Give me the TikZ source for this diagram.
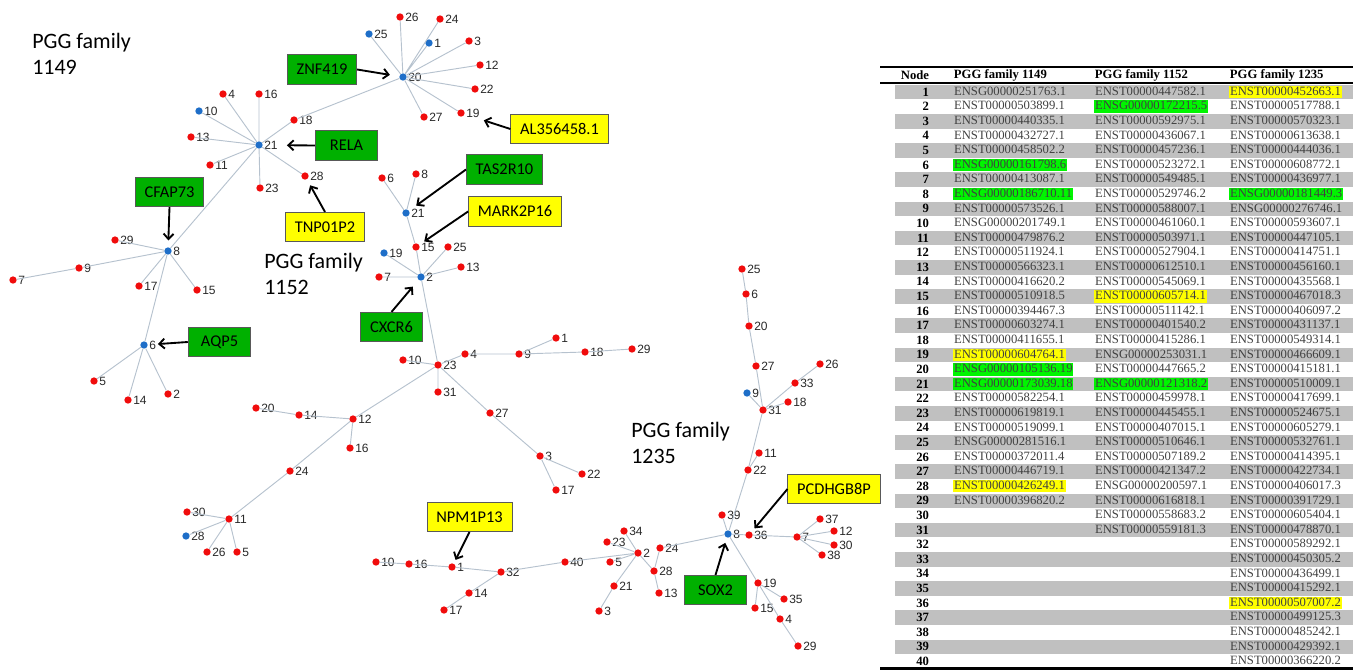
\documentclass[tikz,border=0pt]{standalone}
\usepackage{fontspec}
\setmainfont{Liberation Serif}
\newfontfamily\calfont{Carlito}
\newfontfamily\numfont{Liberation Sans}
\usetikzlibrary{arrows.meta}

\definecolor{dotred}{RGB}{240,12,12}
\definecolor{dotblue}{RGB}{30,110,200}
\definecolor{edgegray}{RGB}{182,194,206}
\definecolor{labgray}{RGB}{40,40,40}
\definecolor{boxgreen}{RGB}{0,176,0}
\definecolor{boxyellow}{RGB}{255,255,0}
\definecolor{hlgreen}{RGB}{0,245,0}
\definecolor{hlyellow}{RGB}{255,255,0}
\definecolor{rowgray}{RGB}{192,192,192}
\definecolor{idgray}{RGB}{64,64,64}

\begin{document}
\begin{tikzpicture}[x=0.75pt, y=-0.75pt]
    % ==========================
    % 設定
    % ==========================
    \def\rowh{14.6} % 表の行の高さ
    \tikzset{
        dot/.style={circle, inner sep=0pt, minimum size=5.5pt}, % 頂点
        rdot/.style={dot, fill=dotred},
        bdot/.style={dot, fill=dotblue},
        every label/.style={font=\numfont\fontsize{9}{10}\selectfont, text=labgray, inner sep=0.8pt},
        label distance=0pt,
        edge/.style={draw=edgegray, line width=0.7pt}, % 辺
        gene/.style={draw=black!65, line width=0.6pt, font=\calfont\fontsize{12.3}{14}\selectfont,
            minimum width=47pt, minimum height=22pt, inner xsep=7pt},
        gbox/.style={gene, fill=boxgreen},
        ybox/.style={gene, fill=boxyellow},
        callout/.style={-{Straight Barb[length=4pt,width=7.5pt]}, line width=1.4pt},
        family/.style={font=\calfont\fontsize{16.5}{19.5}\selectfont, align=left, anchor=north west, inner sep=0pt},
        cell/.style={anchor=west, font=\fontsize{9.5}{10}\selectfont, text=idgray, inner xsep=0.6pt, inner ysep=0.3pt,
            text height=6.8pt, text depth=2pt},
        numcell/.style={anchor=east, font=\bfseries\fontsize{9.5}{10}\selectfont, inner sep=0.5pt},
        headcell/.style={font=\bfseries\fontsize{9.5}{10}\selectfont, inner sep=0.5pt}
    }
    \useasboundingbox (0,0) rectangle (1356,671);

    % ==========================
    % 1. PGG family 1149
    % ==========================
    \begin{scope}
        \node[family] (famA) at (32,33) {PGG family\\1149};

        % 頂点
        \node[bdot, label=right:20] (A20) at (403,77) {};
        \node[rdot, label=right:26] (A26) at (400,17) {};
        \node[rdot, label=right:24] (A24) at (440,19) {};
        \node[bdot, label=right:25] (A25) at (369,34) {};
        \node[bdot, label=right:1] (A1) at (429,43) {};
        \node[rdot, label=right:3] (A3) at (469,41) {};
        \node[rdot, label=right:12] (A12) at (480,65) {};
        \node[rdot, label=right:22] (A22) at (475,89) {};
        \node[rdot, label=right:19] (A19) at (461,113) {};
        \node[rdot, label=right:27] (A27) at (424,117) {};
        \node[rdot, label=right:18] (A18) at (294,120) {};
        \node[bdot, label=right:21] (A21) at (259,145) {};
        \node[rdot, label=right:16] (A16) at (259,94) {};
        \node[rdot, label=right:4] (A4) at (223,94) {};
        \node[bdot, label=right:10] (A10) at (199,111) {};
        \node[rdot, label=right:13] (A13) at (191,137) {};
        \node[rdot, label=right:11] (A11) at (210,165) {};
        \node[rdot, label=right:23] (A23) at (260,188) {};
        \node[rdot, label=right:28] (A28) at (305,176) {};
        \node[bdot, label=right:8] (A8) at (168,251) {};
        \node[rdot, label=right:29] (A29) at (115,240) {};
        \node[rdot, label=right:9] (A9) at (79,268) {};
        \node[rdot, label=right:7] (A7) at (13,280) {};
        \node[rdot, label=right:17] (A17) at (139,286) {};
        \node[rdot, label=right:15] (A15) at (197,290) {};
        \node[bdot, label=right:6] (A6) at (144,345) {};
        \node[rdot, label=right:5] (A5) at (94,381) {};
        \node[rdot, label=right:14] (A14) at (128,400) {};
        \node[rdot, label=right:2] (A2) at (168,394) {};

        % 辺
        \draw[edge] (A20) -- (A26) (A20) -- (A24) (A20) -- (A25) (A20) -- (A1) (A20) -- (A3)
            (A20) -- (A12) (A20) -- (A22) (A20) -- (A19) (A20) -- (A27) (A20) -- (A18);
        \draw[edge] (A18) -- (A21) (A21) -- (A16) (A21) -- (A4) (A21) -- (A10) (A21) -- (A13)
            (A21) -- (A11) (A21) -- (A23) (A21) -- (A28) (A21) -- (A8);
        \draw[edge] (A8) -- (A29) (A8) -- (A9) (A9) -- (A7) (A8) -- (A17) (A8) -- (A15) (A8) -- (A6);
        \draw[edge] (A6) -- (A5) (A6) -- (A14) (A6) -- (A2);

        % 遺伝子名
        \node[gbox] (znf) at (322,69.5) {ZNF419};
        \node[gbox] (rela) at (346.5,145.5) {RELA};
        \node[gbox] (cfap) at (169.5,192) {CFAP73};
        \node[gbox] (aqp) at (219.5,342) {AQP5};
        \node[ybox] (tnp) at (325,227) {TNP01P2};
        \node[ybox] (alx) at (559.5,129) {AL356458.1};

        \draw[callout, shorten >=7pt] (znf.east) -- (A20);
        \draw[callout, shorten >=18pt] (rela.west) -- (A21);
        \draw[callout, shorten >=5pt] (cfap.south) -- (A8);
        \draw[callout, shorten >=7.5pt] (aqp.west) -- (A6);
        \draw[callout, shorten >=5pt] (tnp.north) -- (A28);
        \draw[callout, shorten >=15pt] (alx.west) -- (A19);
    \end{scope}

    % ==========================
    % 2. PGG family 1152
    % ==========================
    \begin{scope}
        \node[family] (famB) at (264,253) {PGG family\\1152};

        % 頂点
        \node[rdot, label=right:6] (B6) at (382,178) {};
        \node[rdot, label=right:8] (B8) at (416,174) {};
        \node[bdot, label=right:21] (B21) at (406,213) {};
        \node[rdot, label=right:15] (B15) at (416,247) {};
        \node[rdot, label=right:25] (B25) at (448,247) {};
        \node[bdot, label=right:19] (B19) at (384,253) {};
        \node[rdot, label=right:7] (B7) at (379,277) {};
        \node[bdot, label=right:2] (B2) at (421,277) {};
        \node[rdot, label=right:13] (B13) at (461,267) {};
        \node[rdot, label=right:23] (B23) at (438,365) {};
        \node[rdot, label=right:10] (B10) at (403,360) {};
        \node[rdot, label=right:4] (B4) at (465,354) {};
        \node[rdot, label=right:9] (B9) at (519,354) {};
        \node[rdot, label=right:1] (B1) at (556,338) {};
        \node[rdot, label=right:18] (B18) at (585,352) {};
        \node[rdot, label=right:29] (B29) at (632,349) {};
        \node[rdot, label=right:31] (B31) at (438,392) {};
        \node[rdot, label=right:27] (B27) at (490,413) {};
        \node[rdot, label=right:3] (B3) at (540,456) {};
        \node[rdot, label=right:22] (B22) at (582,474) {};
        \node[rdot, label=right:17] (B17) at (556,490) {};
        \node[rdot, label=right:12] (B12) at (353,419) {};
        \node[rdot, label=right:14] (B14) at (299,415) {};
        \node[rdot, label=right:20] (B20) at (256,408) {};
        \node[rdot, label=right:16] (B16) at (350,448) {};
        \node[rdot, label=right:24] (B24) at (290,471) {};
        \node[rdot, label=right:11] (B11) at (229,519) {};
        \node[rdot, label=right:30] (B30) at (187,512) {};
        \node[bdot, label=right:28] (B28) at (186,536) {};
        \node[rdot, label=right:26] (B26) at (207,552) {};
        \node[rdot, label=right:5] (B5) at (237,552) {};

        % 辺
        \draw[edge] (B21) -- (B6) (B21) -- (B8) (B21) -- (B15) (B15) -- (B2)
            (B2) -- (B25) (B2) -- (B19) (B2) -- (B7) (B2) -- (B13) (B2) -- (B23);
        \draw[edge] (B23) -- (B10) (B23) -- (B4) (B4) -- (B9) (B9) -- (B1) (B9) -- (B18) (B18) -- (B29)
            (B23) -- (B31) (B23) -- (B27) (B27) -- (B3) (B3) -- (B22) (B3) -- (B17);
        \draw[edge] (B23) -- (B12) (B12) -- (B14) (B14) -- (B20) (B12) -- (B16) (B12) -- (B24)
            (B24) -- (B11) (B11) -- (B30) (B11) -- (B28) (B11) -- (B26) (B11) -- (B5);

        % 遺伝子名
        \node[gbox] (tas) at (504.5,169.5) {TAS2R10};
        \node[ybox] (mark) at (515,211.5) {MARK2P16};
        \node[gbox] (cxcr) at (391.5,327) {CXCR6};

        \draw[callout, shorten >=6.5pt] (tas.west) -- (B21);
        \draw[callout, shorten >=4.5pt] (mark.west) -- (B15);
        \draw[callout, shorten >=6.5pt] (cxcr.north) -- (B2);
    \end{scope}

    % ==========================
    % 3. PGG family 1235
    % ==========================
    \begin{scope}
        \node[family] (famC) at (631,422) {PGG family\\1235};

        % 頂点
        \node[rdot, label=right:25] (C25) at (742,269) {};
        \node[rdot, label=right:6] (C6) at (746,294) {};
        \node[rdot, label=right:20] (C20) at (749,326) {};
        \node[rdot, label=right:27] (C27) at (756,366) {};
        \node[bdot, label=right:9] (C9) at (747,393) {};
        \node[rdot, label=right:31] (C31) at (763,410) {};
        \node[rdot, label=right:33] (C33) at (795,383) {};
        \node[rdot, label=right:26] (C26) at (820,364) {};
        \node[rdot, label=right:18] (C18) at (788,402) {};
        \node[rdot, label=right:11] (C11) at (759,453) {};
        \node[rdot, label=right:22] (C22) at (748,470) {};
        \node[rdot, label=right:39] (C39) at (722,515) {};
        \node[bdot, label=right:8] (C8) at (728,534) {};
        \node[rdot, label=right:36] (C36) at (749,535) {};
        \node[rdot, label=right:7] (C7) at (797,537) {};
        \node[rdot, label=right:37] (C37) at (820,519) {};
        \node[rdot, label=right:12] (C12) at (834,531) {};
        \node[rdot, label=right:30] (C30) at (834,545) {};
        \node[rdot, label=right:38] (C38) at (822,555) {};
        \node[rdot, label=right:19] (C19) at (758,583) {};
        \node[rdot, label=right:35] (C35) at (784,599) {};
        \node[rdot, label=right:15] (C15) at (755,608) {};
        \node[rdot, label=right:4] (C4) at (780,619) {};
        \node[rdot, label=right:29] (C29) at (798,646) {};
        \node[rdot, label=right:24] (C24) at (660,548) {};
        \node[rdot, label=right:2] (C2) at (638,553) {};
        \node[rdot, label=right:34] (C34) at (624,531) {};
        \node[rdot, label=right:23] (C23) at (607,542) {};
        \node[rdot, label=right:5] (C5) at (610,562) {};
        \node[rdot, label=right:28] (C28) at (654,571) {};
        \node[rdot, label=right:13] (C13) at (659,593) {};
        \node[rdot, label=right:21] (C21) at (614,586) {};
        \node[rdot, label=right:3] (C3) at (599,611) {};
        \node[rdot, label=right:40] (C40) at (565,562) {};
        \node[rdot, label=right:32] (C32) at (501,572) {};
        \node[rdot, label=right:1] (C1) at (452,567) {};
        \node[rdot, label=right:16] (C16) at (409,564) {};
        \node[rdot, label=right:10] (C10) at (376,562) {};
        \node[rdot, label=right:14] (C14) at (469,593) {};
        \node[rdot, label=right:17] (C17) at (444,610) {};

        % 辺
        \draw[edge] (C25) -- (C6) (C6) -- (C20) (C20) -- (C27) (C27) -- (C31) (C31) -- (C9)
            (C31) -- (C33) (C33) -- (C26) (C31) -- (C18) (C31) -- (C22) (C22) -- (C11) (C22) -- (C8);
        \draw[edge] (C8) -- (C39) (C8) -- (C36) (C36) -- (C7) (C7) -- (C37) (C7) -- (C12)
            (C7) -- (C30) (C7) -- (C38) (C8) -- (C19) (C19) -- (C35) (C19) -- (C15) (C19) -- (C4) (C4) -- (C29);
        \draw[edge] (C8) -- (C24) (C24) -- (C28) (C28) -- (C13) (C28) -- (C2) (C2) -- (C34) (C2) -- (C23)
            (C2) -- (C5) (C2) -- (C40) (C2) -- (C21) (C21) -- (C3);
        \draw[edge] (C40) -- (C32) (C32) -- (C1) (C1) -- (C16) (C16) -- (C10) (C32) -- (C14) (C14) -- (C17);

        % 遺伝子名
        \node[ybox] (npm) at (469.5,517) {NPM1P13};
        \node[ybox] (pcd) at (834,489) {PCDHGB8P};
        \node[gbox] (sox) at (715.5,590) {SOX2};

        \draw[callout, shorten >=3pt] (npm.south) -- (C1);
        \draw[callout, shorten >=3.5pt] (pcd.west) -- (C36);
        \draw[callout, shorten >=4pt] (sox.north) -- (C8);
    \end{scope}

    % ==========================
    % 4. 表
    % ==========================
    \begin{scope}
        % 行の背景 (奇数行)
        \foreach \i in {1,3,...,39}
            \fill[rowgray] (895,{92+(\i-1)*\rowh-\rowh/2}) rectangle (1353,{92+(\i-1)*\rowh+\rowh/2});

        % 罫線
        \draw[line width=1.5pt] (880,66.5) -- (1353,66.5);
        \draw[line width=1pt] (880,83) -- (1353,83);
        \draw[line width=2pt] (880,668.5) -- (1353,668.5);

        % 見出し
        \node[headcell, anchor=east] (hNode) at (930,75) {Node};
        \node[headcell, anchor=west] (hA) at (953,75) {PGG family 1149};
        \node[headcell, anchor=west] (hB) at (1094,75) {PGG family 1152};
        \node[headcell, anchor=west] (hC) at (1229,75) {PGG family 1235};

        % 行
        \foreach \n/\ca/\a/\cb/\b/\cc/\c in {
            1/none/ENSG00000251763.1/none/ENST00000447582.1/hlyellow/ENST00000452663.1,
            2/none/ENST00000503899.1/hlgreen/ENSG00000172215.5/none/ENST00000517788.1,
            3/none/ENST00000440335.1/none/ENST00000592975.1/none/ENST00000570323.1,
            4/none/ENST00000432727.1/none/ENST00000436067.1/none/ENST00000613638.1,
            5/none/ENST00000458502.2/none/ENST00000457236.1/none/ENST00000444036.1,
            6/hlgreen/ENSG00000161798.6/none/ENST00000523272.1/none/ENST00000608772.1,
            7/none/ENST00000413087.1/none/ENST00000549485.1/none/ENST00000436977.1,
            8/hlgreen/ENSG00000186710.11/none/ENST00000529746.2/hlgreen/ENSG00000181449.3,
            9/none/ENST00000573526.1/none/ENST00000588007.1/none/ENSG00000276746.1,
            10/none/ENSG00000201749.1/none/ENST00000461060.1/none/ENST00000593607.1,
            11/none/ENST00000479876.2/none/ENST00000503971.1/none/ENST00000447105.1,
            12/none/ENST00000511924.1/none/ENST00000527904.1/none/ENST00000414751.1,
            13/none/ENST00000566323.1/none/ENST00000612510.1/none/ENST00000456160.1,
            14/none/ENST00000416620.2/none/ENST00000545069.1/none/ENST00000435568.1,
            15/none/ENST00000510918.5/hlyellow/ENST00000605714.1/none/ENST00000467018.3,
            16/none/ENST00000394467.3/none/ENST00000511142.1/none/ENST00000406097.2,
            17/none/ENST00000603274.1/none/ENST00000401540.2/none/ENST00000431137.1,
            18/none/ENST00000411655.1/none/ENST00000415286.1/none/ENST00000549314.1,
            19/hlyellow/ENST00000604764.1/none/ENSG00000253031.1/none/ENST00000466609.1,
            20/hlgreen/ENSG00000105136.19/none/ENST00000447665.2/none/ENST00000415181.1,
            21/hlgreen/ENSG00000173039.18/hlgreen/ENSG00000121318.2/none/ENST00000510009.1,
            22/none/ENST00000582254.1/none/ENST00000459978.1/none/ENST00000417699.1,
            23/none/ENST00000619819.1/none/ENST00000445455.1/none/ENST00000524675.1,
            24/none/ENST00000519099.1/none/ENST00000407015.1/none/ENST00000605279.1,
            25/none/ENSG00000281516.1/none/ENST00000510646.1/none/ENST00000532761.1,
            26/none/ENST00000372011.4/none/ENST00000507189.2/none/ENST00000414395.1,
            27/none/ENST00000446719.1/none/ENST00000421347.2/none/ENST00000422734.1,
            28/hlyellow/ENST00000426249.1/none/ENSG00000200597.1/none/ENST00000406017.3,
            29/none/ENST00000396820.2/none/ENST00000616818.1/none/ENST00000391729.1,
            30/none/{}/none/ENST00000558683.2/none/ENST00000605404.1,
            31/none/{}/none/ENST00000559181.3/none/ENST00000478870.1,
            32/none/{}/none/{}/none/ENST00000589292.1,
            33/none/{}/none/{}/none/ENST00000450305.2,
            34/none/{}/none/{}/none/ENST00000436499.1,
            35/none/{}/none/{}/none/ENST00000415292.1,
            36/none/{}/none/{}/hlyellow/ENST00000507007.2,
            37/none/{}/none/{}/none/ENST00000499125.3,
            38/none/{}/none/{}/none/ENST00000485242.1,
            39/none/{}/none/{}/none/ENST00000429392.1,
            40/none/{}/none/{}/none/ENST00000366220.2%
        }{
            \node[numcell] (t\n-n) at (930,{92+(\n-1)*\rowh}) {\n};
            \node[cell, fill=\ca] (t\n-a) at (953,{92+(\n-1)*\rowh}) {\a};
            \node[cell, fill=\cb] (t\n-b) at (1094,{92+(\n-1)*\rowh}) {\b};
            \node[cell, fill=\cc] (t\n-c) at (1229,{92+(\n-1)*\rowh}) {\c};
        }
    \end{scope}

\end{tikzpicture}
\end{document}
